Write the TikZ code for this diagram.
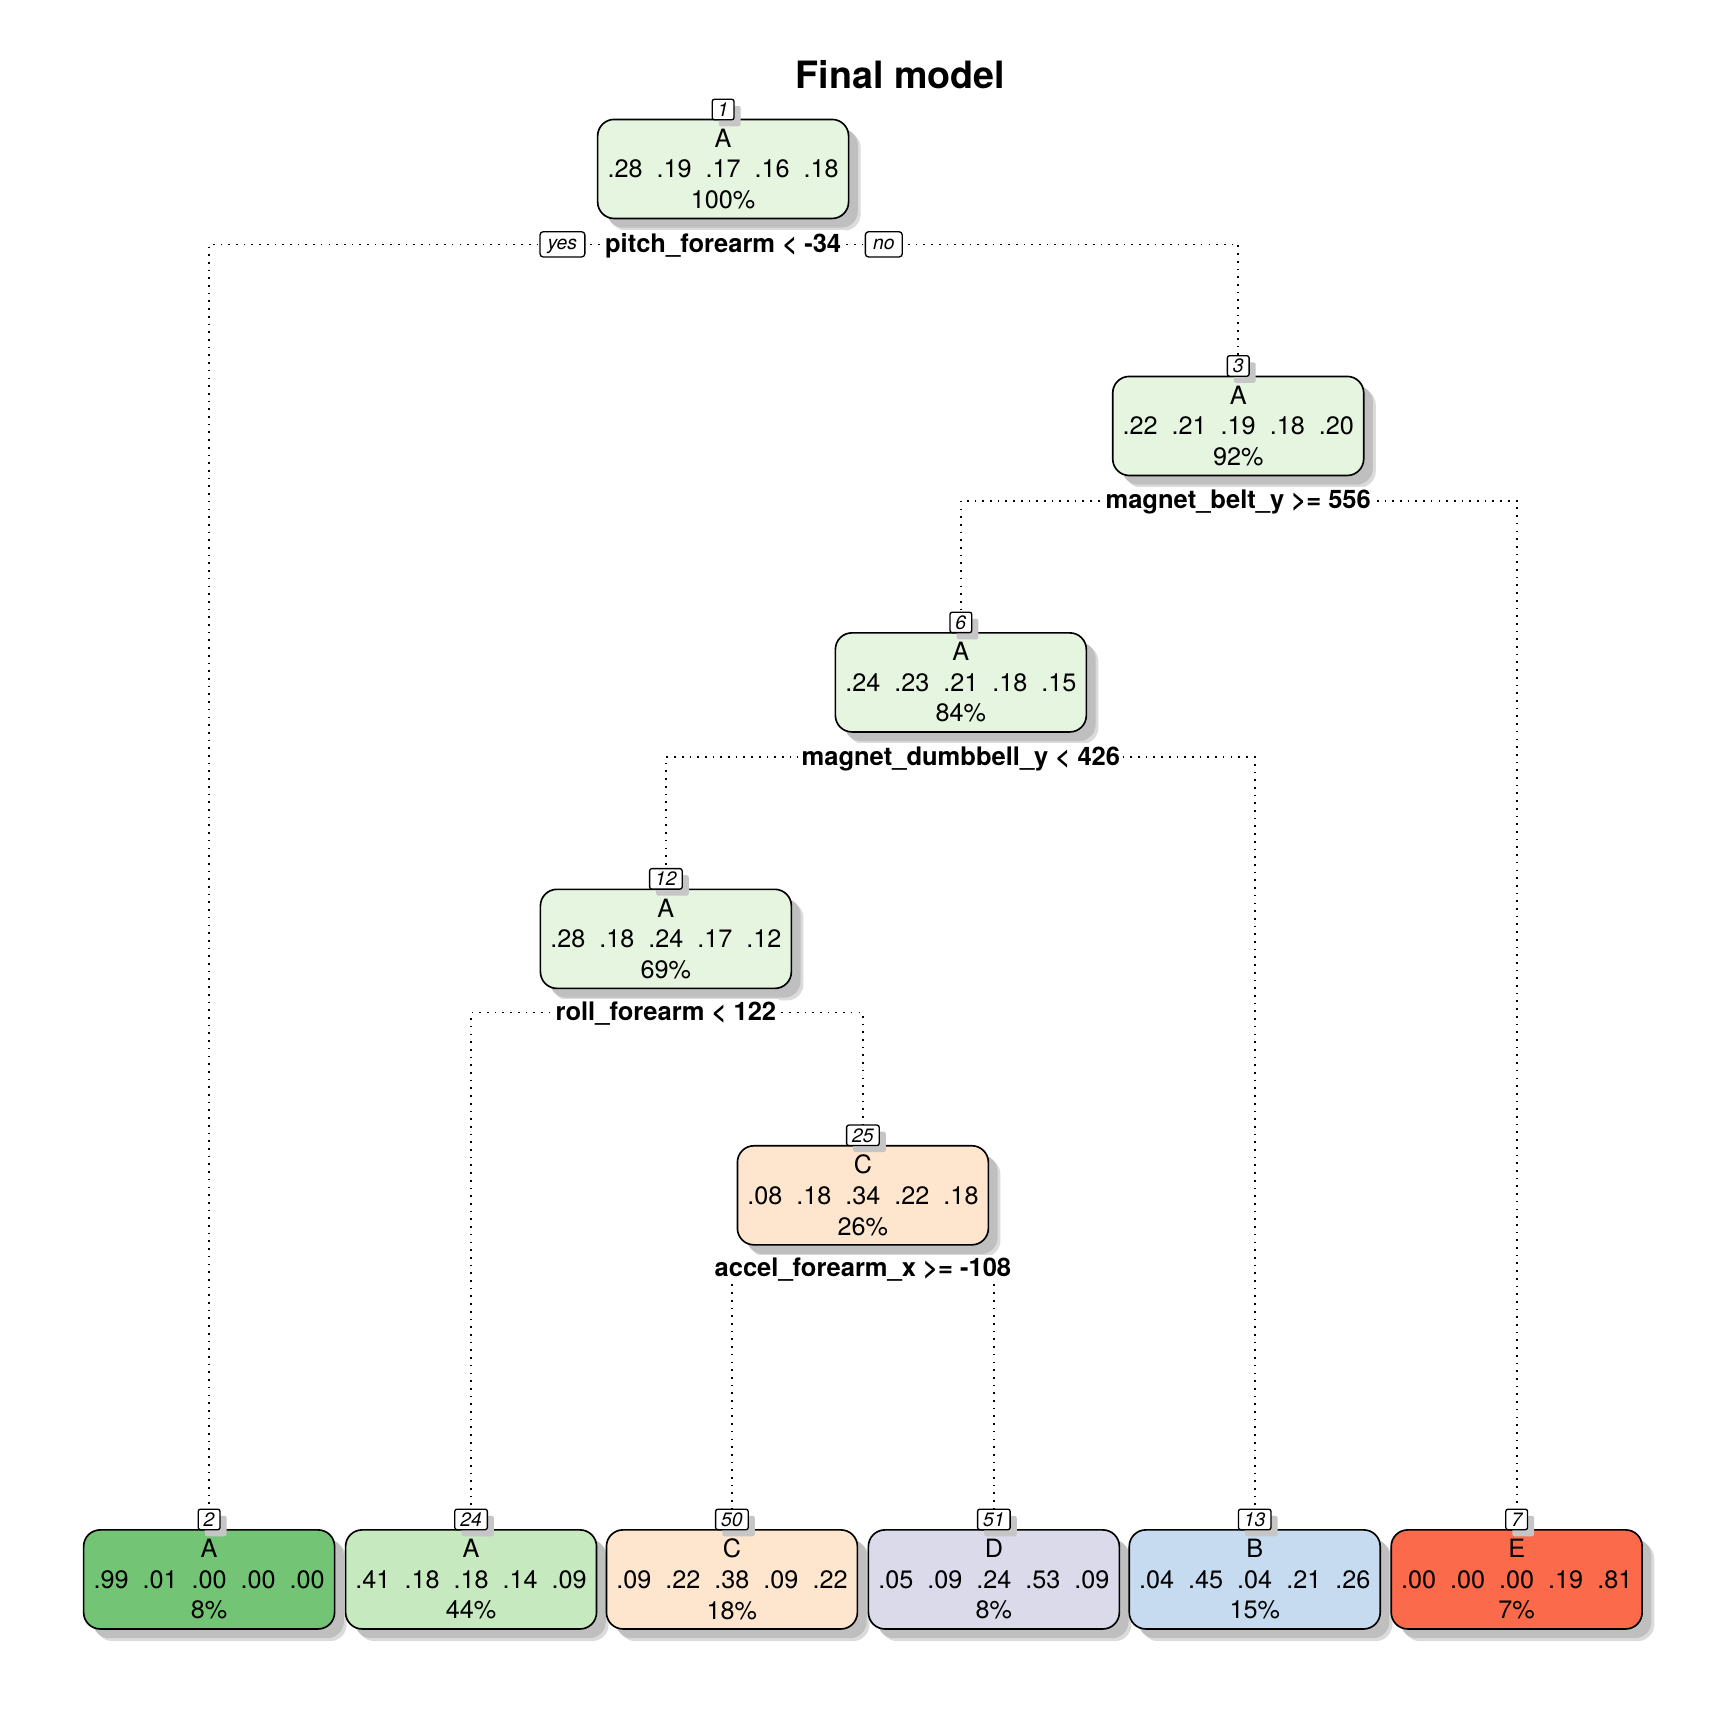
\documentclass[tikz,border=0pt]{standalone}
\usepackage{fontspec}
\setmainfont{TeX Gyre Heros}
\usetikzlibrary{shadows,backgrounds}
\definecolor{cgA}{HTML}{E5F5E0}
\definecolor{cgB}{HTML}{74C476}
\definecolor{cgC}{HTML}{C7E9C0}
\definecolor{cpeach}{HTML}{FEE6CE}
\definecolor{clav}{HTML}{DADAEB}
\definecolor{cblue}{HTML}{C6DBEF}
\definecolor{cred}{HTML}{FB6A4A}
\tikzset{
  titlestyle/.style={font=\fontsize{17.1}{20}\selectfont\bfseries, inner sep=0pt, text height=0.72em, text depth=0pt},
  tbox/.style={draw=black, line width=0.75pt, rounded corners=7.5pt,
    minimum width=114pt, minimum height=45pt, inner sep=0pt, align=center,
    font=\fontsize{11.45}{13.9}\selectfont,
    general shadow={shadow xshift=5.5pt, shadow yshift=-5.5pt, fill=gray!28},
    general shadow={shadow xshift=4.2pt, shadow yshift=-4.2pt, fill=gray!50}},
  nlab/.style={draw=black, fill=white, line width=0.6pt, rounded corners=1pt,
    font=\fontsize{8.8}{10}\selectfont\itshape, inner xsep=2.5pt, inner ysep=1.5pt,
    text height=6.3pt, text depth=0pt,
    general shadow={shadow xshift=3pt, shadow yshift=-3pt, fill=gray!45}},
  yn/.style={draw=black, fill=white, line width=0.6pt, rounded corners=1.5pt,
    font=\fontsize{8.8}{10}\selectfont\itshape, inner xsep=3.5pt, inner ysep=1.5pt,
    text height=6.5pt, text depth=2pt},
  split/.style={fill=white, font=\fontsize{11.6}{13}\selectfont\bfseries,
    inner xsep=1.5pt, inner ysep=0.5pt, text height=0.94em, text depth=0.22em},
  edge/.style={draw=black, line width=0.75pt, dash pattern=on 0.75pt off 2.75pt}
}
\begin{document}
\begin{tikzpicture}[x=0.5pt,y=-0.5pt]
\useasboundingbox (0,0) rectangle (1570,1570);
\node[titlestyle] (title) at (818,73) {Final model};
% inner nodes
\node[tbox, fill=cgA] (n1) at (657,153.5) {A\\.28~~.19~~.17~~.16~~.18\\100\%};
\node[tbox, fill=cgA] (n3) at (1125,387) {A\\.22~~.21~~.19~~.18~~.20\\92\%};
\node[tbox, fill=cgA] (n6) at (873,620) {A\\.24~~.23~~.21~~.18~~.15\\84\%};
\node[tbox, fill=cgA] (n12) at (605,853) {A\\.28~~.18~~.24~~.17~~.12\\69\%};
\node[tbox, fill=cpeach] (n25) at (784,1086) {C\\.08~~.18~~.34~~.22~~.18\\26\%};
% leaves
\node[tbox, fill=cgB] (n2) at (190,1435) {A\\.99~~.01~~.00~~.00~~.00\\8\%};
\node[tbox, fill=cgC] (n24) at (428,1435) {A\\.41~~.18~~.18~~.14~~.09\\44\%};
\node[tbox, fill=cpeach] (n50) at (665,1435) {C\\.09~~.22~~.38~~.09~~.22\\18\%};
\node[tbox, fill=clav] (n51) at (903,1435) {D\\.05~~.09~~.24~~.53~~.09\\8\%};
\node[tbox, fill=cblue] (n13) at (1140,1435) {B\\.04~~.45~~.04~~.21~~.26\\15\%};
\node[tbox, fill=cred] (n7) at (1378,1435) {E\\.00~~.00~~.00~~.19~~.81\\7\%};
% number labels
\node[nlab] (l1) at (657,99.5) {1};
\node[nlab] (l3) at (1125,332.5) {3};
\node[nlab] (l6) at (873,565.5) {6};
\node[nlab] (l12) at (605,798.5) {12};
\node[nlab] (l25) at (784,1031.5) {25};
\node[nlab] (l2) at (190,1380.5) {2};
\node[nlab] (l24) at (428,1380.5) {24};
\node[nlab] (l50) at (665,1380.5) {50};
\node[nlab] (l51) at (903,1380.5) {51};
\node[nlab] (l13) at (1140,1380.5) {13};
\node[nlab] (l7) at (1378,1380.5) {7};
% split labels
\node[split] (s1) at (657,222) {pitch\_forearm < -34};
\node[yn] (yes) at (511,222) {yes};
\node[yn] (no) at (803,222) {no};
\node[split] (s3) at (1125,455) {magnet\_belt\_y >= 556};
\node[split] (s6) at (873,688) {magnet\_dumbbell\_y < 426};
\node[split] (s12) at (605,920) {roll\_forearm < 122};
\node[split] (s25) at (784,1153) {accel\_forearm\_x >= -108};
\begin{pgfonlayer}{background}
\fill[white] (0,0) rectangle (1570,1570);
\draw[edge] (s1.center) -| (l2.north);
\draw[edge] (s1.center) -| (l3.north);
\draw[edge] (s3.center) -| (l6.north);
\draw[edge] (s3.center) -| (l7.north);
\draw[edge] (s6.center) -| (l12.north);
\draw[edge] (s6.center) -| (l13.north);
\draw[edge] (s12.center) -| (l24.north);
\draw[edge] (s12.center) -| (l25.north);
\draw[edge] (s25.center) -| (l50.north);
\draw[edge] (s25.center) -| (l51.north);
\end{pgfonlayer}
\end{tikzpicture}
\end{document}
